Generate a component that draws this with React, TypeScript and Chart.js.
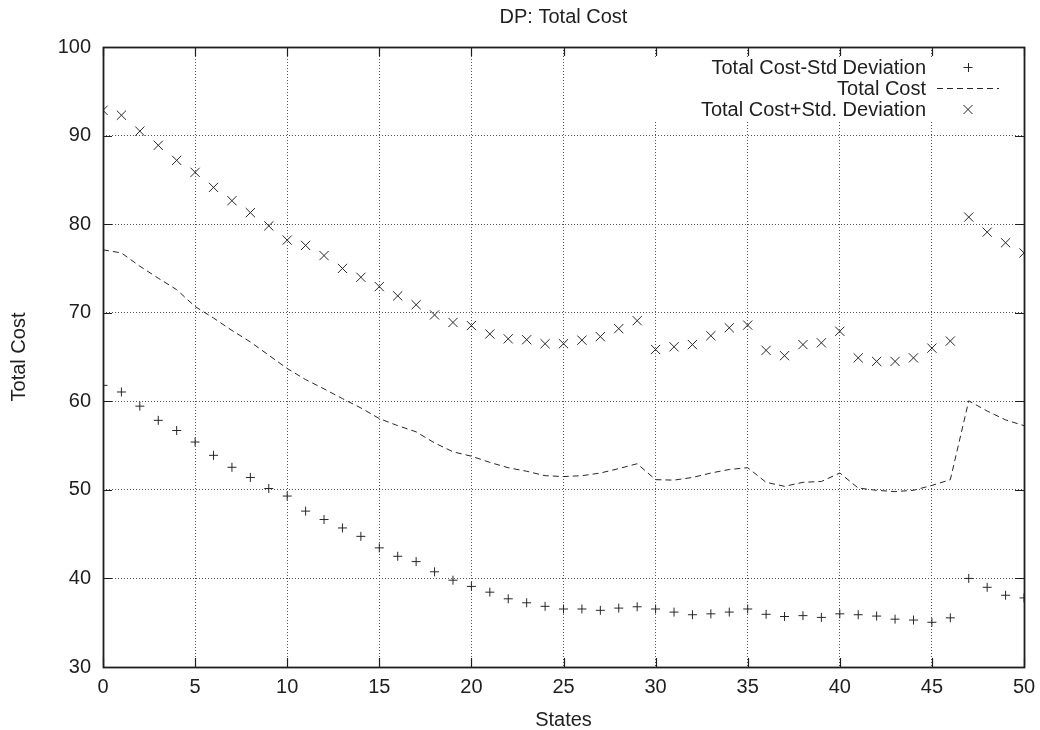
import React, { useEffect, useRef } from "react";
import { Chart, registerables } from "chart.js";

Chart.register(...registerables);

const states = [
  0, 1, 2, 3, 4, 5, 6, 7, 8, 9, 10, 11, 12, 13, 14, 15, 16, 17, 18, 19, 20, 21, 22, 23, 24, 25,
  26, 27, 28, 29, 30, 31, 32, 33, 34, 35, 36, 37, 38, 39, 40, 41, 42, 43, 44, 45, 46, 47, 48, 49, 50,
];

const totalCostMinusStd = [
  61.8, 61.05, 59.45, 57.85, 56.7, 55.4, 53.9, 52.55, 51.4, 50.15,
  49.3, 47.6, 46.65, 45.7, 44.75, 43.45, 42.5, 41.9, 40.75, 39.8,
  39.1, 38.45, 37.7, 37.25, 36.85, 36.55, 36.55, 36.4, 36.65, 36.8,
  36.55, 36.2, 35.9, 36.0, 36.2, 36.55, 35.95, 35.7, 35.8, 35.6,
  36.0, 35.9, 35.75, 35.4, 35.3, 35.05, 35.55, 40.0, 39.0, 38.1, 37.8,
];

const totalCost = [
  77.1, 76.75, 75.25, 73.9, 72.6, 70.7, 69.4, 68.0, 66.7, 65.2,
  63.7, 62.45, 61.4, 60.3, 59.25, 58.05, 57.25, 56.55, 55.3, 54.3,
  53.8, 53.1, 52.5, 52.1, 51.6, 51.5, 51.6, 51.9, 52.4, 52.95,
  51.15, 51.1, 51.4, 51.9, 52.3, 52.5, 50.85, 50.4, 50.85, 50.95,
  51.9, 50.2, 49.95, 49.8, 49.95, 50.5, 51.15, 60.05, 58.9, 57.9, 57.25,
];

const totalCostPlusStd = [
  92.85, 92.3, 90.5, 88.9, 87.2, 85.85, 84.15, 82.65, 81.3, 79.8,
  78.2, 77.6, 76.45, 75.0, 74.0, 72.95, 71.9, 70.9, 69.75, 68.9,
  68.55, 67.6, 67.05, 66.95, 66.5, 66.5, 66.9, 67.3, 68.2, 69.1,
  65.85, 66.15, 66.4, 67.4, 68.3, 68.6, 65.75, 65.15, 66.4, 66.6,
  67.9, 64.9, 64.5, 64.5, 64.9, 66.0, 66.8, 80.8, 79.1, 77.9, 76.75,
];

const xTicks = [0, 5, 10, 15, 20, 25, 30, 35, 40, 45, 50];
const yTicks = [30, 40, 50, 60, 70, 80, 90, 100];

const seriesLabels = ["Total Cost-Std Deviation", "Total Cost", "Total Cost+Std. Deviation"];
const chartTitle = "DP: Total Cost";
const xTitle = "States";
const yTitle = "Total Cost";

const FONT = "'Liberation Sans', Arial, Helvetica, sans-serif";
const INK = "#1e1e1e";
const MARK = "#262626";

const gnuplotPlugin = {
  id: "gnuplotDecor",
  beforeDatasetsDraw(chart: any) {
    const ctx = chart.ctx as CanvasRenderingContext2D;
    const area = chart.chartArea;
    ctx.save();
    // opaque key box
    ctx.fillStyle = "#fff";
    ctx.fillRect(640, area.top + 10, area.right - 10 - 640, 64);
    // key text
    ctx.font = `20px ${FONT}`;
    ctx.fillStyle = INK;
    ctx.textAlign = "right";
    ctx.textBaseline = "middle";
    const textRight = 926;
    const symX = 968;
    const rows = [area.top + 21, area.top + 42, area.top + 63];
    seriesLabels.forEach((lab, i) => ctx.fillText(lab, textRight, rows[i]));
    ctx.strokeStyle = MARK;
    ctx.lineWidth = 1;
    // plus
    ctx.beginPath();
    ctx.moveTo(symX - 4.5, rows[0] - 0.5);
    ctx.lineTo(symX + 4.5, rows[0] - 0.5);
    ctx.moveTo(symX + 0.5, rows[0] - 5);
    ctx.lineTo(symX + 0.5, rows[0] + 4);
    ctx.stroke();
    // dashed sample
    ctx.setLineDash([6, 4]);
    ctx.beginPath();
    ctx.moveTo(937, rows[1] - 0.5);
    ctx.lineTo(999, rows[1] - 0.5);
    ctx.stroke();
    ctx.setLineDash([]);
    // cross
    ctx.beginPath();
    ctx.moveTo(symX - 4.5, rows[2] - 5);
    ctx.lineTo(symX + 4.5, rows[2] + 4);
    ctx.moveTo(symX + 4.5, rows[2] - 5);
    ctx.lineTo(symX - 4.5, rows[2] + 4);
    ctx.stroke();
    // title
    ctx.textAlign = "center";
    ctx.fillText(chartTitle, (area.left + area.right) / 2, 17);
    ctx.restore();
  },
  afterDraw(chart: any) {
    const ctx = chart.ctx as CanvasRenderingContext2D;
    const area = chart.chartArea;
    const xs = chart.scales.x;
    const ys = chart.scales.y;
    ctx.save();
    ctx.strokeStyle = INK;
    ctx.lineWidth = 1.2;
    ctx.beginPath();
    xTicks.forEach((v) => {
      const px = Math.round(xs.getPixelForValue(v)) + 0.5;
      ctx.moveTo(px, area.bottom);
      ctx.lineTo(px, area.bottom - 9);
      ctx.moveTo(px, area.top);
      ctx.lineTo(px, area.top + 9);
    });
    yTicks.forEach((v) => {
      const py = Math.round(ys.getPixelForValue(v)) + 0.5;
      ctx.moveTo(area.left, py);
      ctx.lineTo(area.left + 9, py);
      ctx.moveTo(area.right, py);
      ctx.lineTo(area.right - 9, py);
    });
    ctx.stroke();
    ctx.lineWidth = 1.8;
    ctx.strokeRect(area.left + 0.5, area.top + 0.5, area.right - area.left, area.bottom - area.top);
    ctx.restore();
  },
};

export default function App() {
  const ref = useRef<HTMLCanvasElement | null>(null);

  useEffect(() => {
    document.body.style.margin = "0";
    const canvas = ref.current;
    if (!canvas) return;
    const toPts = (ys: number[]) => states.map((x, i) => ({ x, y: ys[i] }));
    const chart = new Chart(canvas, {
      type: "scatter",
      data: {
        datasets: [
          {
            label: seriesLabels[1],
            data: toPts(totalCost),
            showLine: true,
            borderColor: MARK,
            borderWidth: 1,
            borderDash: [6, 4],
            pointRadius: 0,
            tension: 0,
            fill: false,
          },
          {
            label: seriesLabels[0],
            data: toPts(totalCostMinusStd),
            showLine: false,
            pointStyle: "cross",
            pointRadius: 4.5,
            borderColor: MARK,
            backgroundColor: MARK,
            pointBorderWidth: 1,
          },
          {
            label: seriesLabels[2],
            data: toPts(totalCostPlusStd),
            showLine: false,
            pointStyle: "crossRot",
            pointRadius: 6.5,
            borderColor: MARK,
            backgroundColor: MARK,
            pointBorderWidth: 1,
          },
        ],
      },
      options: {
        animation: false,
        responsive: false,
        devicePixelRatio: 1,
        events: [],
        layout: { padding: { top: 47, right: 16, bottom: 0, left: 0 } },
        plugins: {
          legend: { display: false },
          tooltip: { enabled: false },
          title: { display: false },
        },
        scales: {
          x: {
            type: "linear",
            min: 0,
            max: 50,
            afterBuildTicks: (s: any) => {
              s.ticks = xTicks.map((v) => ({ value: v }));
            },
            afterFit: (s: any) => {
              s.height = 63;
              s.paddingLeft = 0;
              s.paddingRight = 0;
            },
            ticks: {
              color: INK,
              font: { family: FONT, size: 20 },
              padding: 8,
              maxRotation: 0,
              autoSkip: false,
            },
            grid: { color: "#555", lineWidth: 1, drawTicks: false },
            border: { display: false, dash: [1, 2] },
            title: {
              display: true,
              text: xTitle,
              color: INK,
              font: { family: FONT, size: 20, lineHeight: 1 },
              padding: { top: 0, bottom: 0 },
            },
          },
          y: {
            type: "linear",
            min: 30,
            max: 100,
            afterBuildTicks: (s: any) => {
              s.ticks = yTicks.map((v) => ({ value: v }));
            },
            afterFit: (s: any) => {
              s.width = 103;
              s.paddingTop = 0;
              s.paddingBottom = 0;
            },
            ticks: {
              color: INK,
              font: { family: FONT, size: 20 },
              padding: 12,
              autoSkip: false,
            },
            grid: { color: "#555", lineWidth: 1, drawTicks: false },
            border: { display: false, dash: [1, 2] },
            title: {
              display: true,
              text: yTitle,
              color: INK,
              font: { family: FONT, size: 20, lineHeight: 1 },
              padding: { top: 9.5, bottom: 0 },
            },
          },
        },
      },
      plugins: [gnuplotPlugin],
    } as any);
    return () => chart.destroy();
  }, []);

  return (
    <div style={{ position: "fixed", left: 0, top: 0, width: 1040, height: 730, background: "#fff" }}>
      <canvas ref={ref} width={1040} height={730} style={{ display: "block" }} />
    </div>
  );
}
